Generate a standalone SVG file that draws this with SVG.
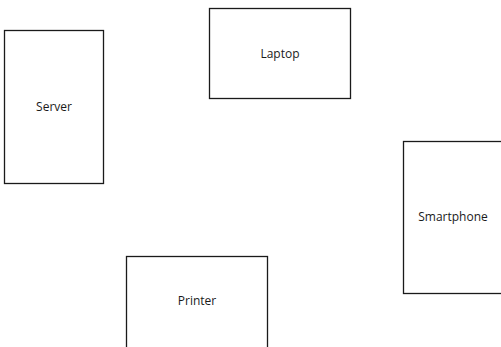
<svg xmlns="http://www.w3.org/2000/svg" width="501" height="347" viewBox="0 0 501 347">
<style>
.box{fill:#fff;stroke:#1a1a1a;stroke-width:1.3}
.lbl{font-family:"Open Sans","Noto Sans",sans-serif;font-size:12px;fill:#1a1a1a;text-anchor:middle;dominant-baseline:central}
</style>
<rect width="501" height="347" fill="#fff"/>
<g id="server"><rect class="box" x="4.5" y="30.5" width="99" height="153"/><text class="lbl" x="54" y="106">Server</text></g>
<g id="laptop"><rect class="box" x="209.5" y="8.5" width="141" height="90"/><text class="lbl" x="280" y="53">Laptop</text></g>
<g id="smartphone"><rect class="box" x="403.5" y="141.5" width="100" height="152"/><text class="lbl" x="453" y="216">Smartphone</text></g>
<g id="printer"><rect class="box" x="126.5" y="256.5" width="141" height="92"/><text class="lbl" x="197" y="300">Printer</text></g>
<g id="connectors"></g>
</svg>
